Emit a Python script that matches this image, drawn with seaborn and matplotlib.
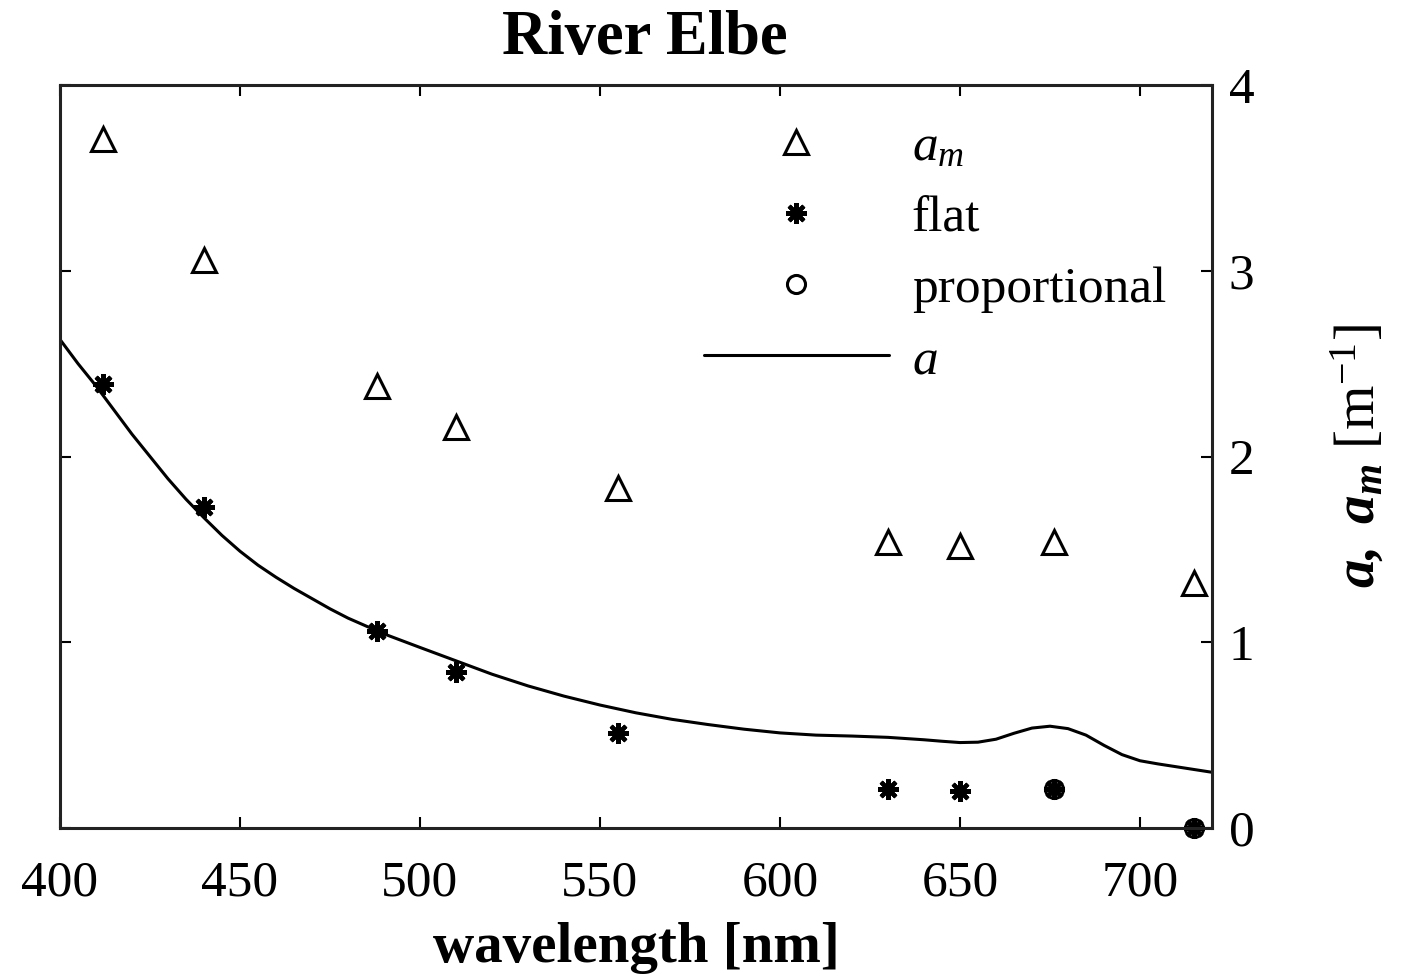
import numpy as np
import pandas as pd
import matplotlib
matplotlib.use("Agg")
import matplotlib.pyplot as plt
import seaborn as sns

# ---- data ----
bands = [412, 440, 488, 510, 555, 630, 650, 676, 715]
a_m = [3.71, 3.06, 2.38, 2.16, 1.83, 1.54, 1.52, 1.54, 1.32]
flat = [2.39, 1.73, 1.06, 0.84, 0.51, 0.21, 0.20, 0.21, 0.0]
prop_bands = [676, 715]
proportional = [0.21, 0.0]

wl_line = [400, 405, 410, 415, 420, 425, 430, 435, 440, 445, 450, 455, 460, 465,
           470, 475, 480, 490, 500, 510, 520, 530, 540, 550, 560, 570, 580, 590,
           600, 610, 620, 630, 640, 645, 650, 655, 660, 665, 670, 675, 680, 685,
           690, 695, 700, 705, 710, 715, 720]
a_line = [2.63, 2.50, 2.38, 2.25, 2.12, 2.00, 1.88, 1.77, 1.67, 1.575, 1.49, 1.415,
          1.35, 1.29, 1.235, 1.18, 1.13, 1.045, 0.972, 0.90, 0.828, 0.765, 0.71,
          0.662, 0.62, 0.585, 0.557, 0.532, 0.512, 0.50, 0.495, 0.488, 0.475,
          0.467, 0.46, 0.462, 0.478, 0.51, 0.538, 0.548, 0.535, 0.50, 0.445,
          0.395, 0.362, 0.345, 0.33, 0.315, 0.30]

title = "River Elbe"
xlabel = "wavelength [nm]"
ylabel = r"$\mathbf{a,\ a_m}\ \mathrm{[m^{-1}]}$"
xticks = [400, 450, 500, 550, 600, 650, 700]
yticks = [0, 1, 2, 3, 4]

sns.set_theme(style="white")
plt.rcParams["font.family"] = ["Liberation Serif", "DejaVu Serif"]
plt.rcParams["mathtext.fontset"] = "custom"
plt.rcParams["mathtext.rm"] = "Liberation Serif"
plt.rcParams["mathtext.it"] = "Liberation Serif:italic"
plt.rcParams["mathtext.bf"] = "Liberation Serif:italic:bold"
plt.rcParams["text.color"] = "black"
plt.rcParams["axes.labelcolor"] = "black"
plt.rcParams["xtick.color"] = "black"
plt.rcParams["ytick.color"] = "black"

fig = plt.figure(figsize=(14.11, 9.76), dpi=100)
ax = fig.add_axes([60 / 1411, 1 - 828 / 976, (1212 - 60) / 1411, (828 - 85) / 976])

df_line = pd.DataFrame({"wl": wl_line, "a": a_line})
df_pts = pd.DataFrame({"wl": bands, "am": a_m, "flat": flat})
df_prop = pd.DataFrame({"wl": prop_bands, "p": proportional})

sns.lineplot(data=df_pts, x="wl", y="am", ax=ax, linestyle="none", marker="^",
             markersize=17, markerfacecolor="none", markeredgecolor="black",
             markeredgewidth=2.2, color="black", label=r"$a_m$", clip_on=False)
sns.lineplot(data=df_pts, x="wl", y="flat", ax=ax, linestyle="none", marker=(8, 2, 0),
             markersize=15, markeredgecolor="black", markeredgewidth=3.0,
             color="black", label="flat", clip_on=False)
sns.lineplot(data=df_prop, x="wl", y="p", ax=ax, linestyle="none", marker="o",
             markersize=13, markerfacecolor="none", markeredgecolor="black",
             markeredgewidth=2.2, color="black", label="proportional", clip_on=False)
sns.lineplot(data=df_line, x="wl", y="a", ax=ax, color="black", linewidth=2.2,
             label=r"$a$")

ax.set_xlim(400, 720)
ax.set_ylim(0, 4)
ax.set_xticks(xticks)
ax.set_yticks(yticks)
ax.set_xticklabels([str(t) for t in xticks])
ax.set_yticklabels([str(t) for t in yticks])
ax.tick_params(direction="in", length=8, width=1.5, top=True, bottom=True,
               left=True, right=True, labelleft=False, labelright=True,
               labelsize=37, colors="black")
ax.tick_params(axis="x", pad=23)
ax.tick_params(axis="y", pad=12)
for s in ax.spines.values():
    s.set_color("#222222")
    s.set_linewidth(2.2)

ax.yaxis.set_label_position("right")
ax.set_ylabel(ylabel, fontsize=41, labelpad=54)
ax.set_xlabel(xlabel, fontsize=41, fontweight="bold", labelpad=11)
ax.set_title(title, fontsize=45, fontweight="bold", pad=22, x=0.508)

leg = ax.legend(loc="upper right", bbox_to_anchor=(0.978, 0.975), frameon=False,
                fontsize=37, handlelength=3.6, handletextpad=0.45,
                labelspacing=0.47, borderaxespad=0.0)

fig.savefig("out.png", dpi=100, facecolor="white")
